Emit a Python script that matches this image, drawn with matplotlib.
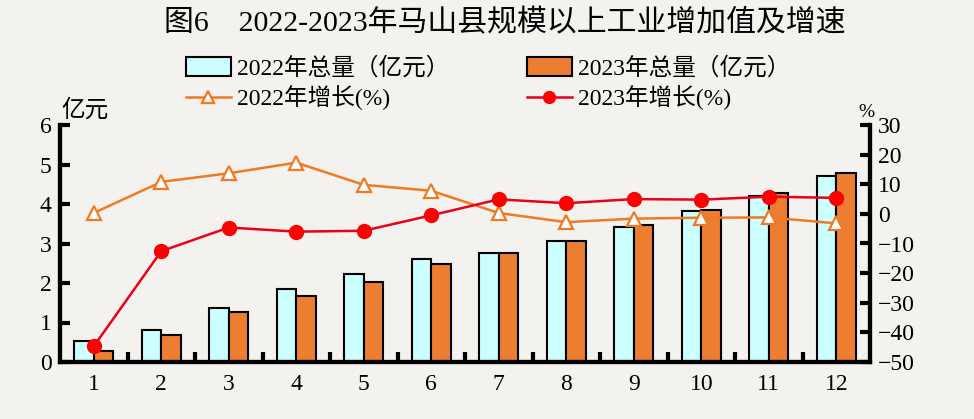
import numpy as np
import matplotlib.pyplot as plt

plt.rcParams['font.family'] = ['Liberation Serif', 'Noto Sans CJK SC', 'DejaVu Sans']

months = ['1', '2', '3', '4', '5', '6', '7', '8', '9', '10', '11', '12']
total_2022 = [0.53, 0.80, 1.37, 1.85, 2.24, 2.61, 2.77, 3.07, 3.43, 3.82, 4.19, 4.72]
total_2023 = [0.28, 0.68, 1.27, 1.68, 2.02, 2.48, 2.77, 3.07, 3.46, 3.84, 4.29, 4.79]
growth_2022 = [0.3, 10.8, 13.7, 17.3, 9.8, 7.8, 0.3, -2.8, -1.6, -1.3, -1.2, -3.2]
growth_2023 = [-44.7, -12.6, -4.6, -6.0, -5.7, -0.5, 4.9, 3.6, 5.0, 4.8, 5.8, 5.4]

bg = '#f4f2ee'
fig = plt.figure(figsize=(9.74, 4.19), dpi=100, facecolor=bg)
ax = fig.add_axes([60/974, 1-362/419, 810/974, 237/419], facecolor=bg)
ax2 = ax.twinx()

x = np.arange(1, 13)
w = 0.29
b1 = ax.bar(x - w/2, total_2022, w, color='#ccffff', edgecolor='black', linewidth=1.5,
            label='2022年总量（亿元）', zorder=2)
b2 = ax.bar(x + w/2, total_2023, w, color='#ed7d31', edgecolor='black', linewidth=1.5,
            label='2023年总量（亿元）', zorder=2)

l1, = ax2.plot(x, growth_2022, color='#f07a24', linewidth=1.8, marker='^', markersize=10,
               markerfacecolor='white', markeredgecolor='#f07a24', markeredgewidth=1.6,
               label='2022年增长(%)')
l2, = ax2.plot(x, growth_2023, color='#e8001c', linewidth=1.8, marker='o', markersize=10,
               markerfacecolor='#ff0000', markeredgecolor='#ff0000',
               label='2023年增长(%)')

ax.set_xlim(0.5, 12.5)
ax.set_ylim(0, 6)
ax2.set_ylim(-50, 30)
ax.set_yticks(range(0, 7))
ax2.set_yticks(range(-50, 31, 10))
ax2.set_yticklabels([str(v).replace('-', '−') for v in range(-50, 31, 10)])

ax.set_xticks(x)
ax.set_xticklabels(months)
ax.set_xticks(np.arange(1.5, 12.5, 1), minor=True)
ax.tick_params(axis='x', which='major', length=0, pad=9, labelsize=17)
ax.tick_params(axis='x', which='minor', direction='in', length=7, width=3)
ax.tick_params(axis='y', direction='in', length=7, width=3, labelsize=17, pad=6)
ax2.tick_params(axis='y', direction='in', length=7, width=3, labelsize=17, pad=6)

for a in (ax, ax2):
    a.spines['top'].set_visible(False)
    for s in ('left', 'right', 'bottom'):
        a.spines[s].set_linewidth(3)

ax.text(0.002, 1.015, '亿元', transform=ax.transAxes, fontsize=17, ha='left', va='bottom')
ax2.text(0.995, 1.015, '%', transform=ax2.transAxes, fontsize=14, ha='center', va='bottom')

fig.text(0.518, 0.945, '图6　2022-2023年马山县规模以上工业增加值及增速', fontsize=21.5,
         ha='center', va='center')

fig.legend([b1, l1, b2, l2], [b1.get_label(), l1.get_label(), b2.get_label(), l2.get_label()],
           ncol=2, loc='center', bbox_to_anchor=(0.501, 0.80), frameon=False, fontsize=17,
           handlelength=1.9, handleheight=0.8, columnspacing=3.3, labelspacing=0.25,
           handletextpad=0.25, markerscale=0.85)

fig.savefig('out.png', dpi=100, facecolor=bg)
